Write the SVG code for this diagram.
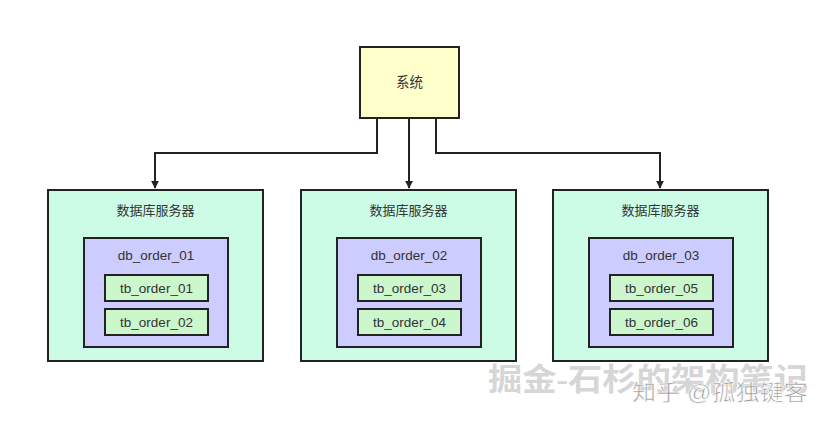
<svg xmlns="http://www.w3.org/2000/svg" width="831" height="424" viewBox="0 0 831 424">
<defs>
<marker id="arr" viewBox="0 0 10 10" refX="9" refY="5" markerWidth="8" markerHeight="8" markerUnits="userSpaceOnUse" orient="auto"><path d="M0,0 L10,5 L0,10 Z" fill="#222"/></marker>
<style>
.box{stroke:#222;stroke-width:2}
.sys{fill:#ffffcc}
.srv{fill:#ccfce6}
.db{fill:#ccccff}
.tb{fill:#ccf7cc}
.t{font-family:"Liberation Sans","Noto Sans CJK SC",sans-serif;font-size:13px;fill:#333;text-anchor:middle}
.t2{font-family:"Liberation Sans","Noto Sans CJK SC",sans-serif;font-size:13.5px;fill:#333;text-anchor:middle}
.conn{fill:none;stroke:#222;stroke-width:2}
</style>
</defs>
<rect width="831" height="424" fill="#fff"/>
<g id="system"><rect class="box sys" x="360" y="47" width="99" height="71"/><text class="t" x="409.5" y="87" style="font-size:13.5px">系统</text></g>
<g id="connectors">
<path class="conn" d="M377,118 V153 H155 V188" marker-end="url(#arr)"/>
<path class="conn" d="M409,118 V188" marker-end="url(#arr)"/>
<path class="conn" d="M436,118 V153 H660 V188" marker-end="url(#arr)"/>
</g>
<g id="server1"><rect class="box srv" x="48" y="190" width="215" height="171"/><text class="t" x="155.5" y="215">数据库服务器</text></g>
<g id="db1"><rect class="box db" x="84" y="238" width="144" height="109"/><text class="t2" x="156" y="260">db_order_01</text></g>
<g id="tb1"><rect class="box tb" x="105" y="275" width="103" height="26"/><text class="t2" x="156.5" y="293">tb_order_01</text></g>
<g id="tb2"><rect class="box tb" x="105" y="309" width="103" height="26"/><text class="t2" x="156.5" y="327">tb_order_02</text></g>
<g id="server2"><rect class="box srv" x="301" y="190" width="215" height="171"/><text class="t" x="408.5" y="215">数据库服务器</text></g>
<g id="db2"><rect class="box db" x="337" y="238" width="144" height="109"/><text class="t2" x="409" y="260">db_order_02</text></g>
<g id="tb3"><rect class="box tb" x="358" y="275" width="103" height="26"/><text class="t2" x="409.5" y="293">tb_order_03</text></g>
<g id="tb4"><rect class="box tb" x="358" y="309" width="103" height="26"/><text class="t2" x="409.5" y="327">tb_order_04</text></g>
<g id="server3"><rect class="box srv" x="553" y="190" width="215" height="171"/><text class="t" x="660.5" y="215">数据库服务器</text></g>
<g id="db3"><rect class="box db" x="589" y="238" width="144" height="109"/><text class="t2" x="661" y="260">db_order_03</text></g>
<g id="tb5"><rect class="box tb" x="610" y="275" width="103" height="26"/><text class="t2" x="661.5" y="293">tb_order_05</text></g>
<g id="tb6"><rect class="box tb" x="610" y="309" width="103" height="26"/><text class="t2" x="661.5" y="327">tb_order_06</text></g>
<g id="watermark">
<text x="488" y="390" font-family="'Liberation Serif','Noto Sans CJK SC',serif" font-size="31" font-weight="bold" fill="#d6d6d6" textLength="320" lengthAdjust="spacingAndGlyphs">掘金-石杉的架构笔记</text>
<text x="632" y="400" font-family="'Liberation Sans','Noto Sans CJK SC',sans-serif" font-size="22" fill="#9a9a9a" stroke="#fff" stroke-width="0.6" textLength="176" lengthAdjust="spacingAndGlyphs">知乎 @孤独键客</text>
</g>
</svg>
